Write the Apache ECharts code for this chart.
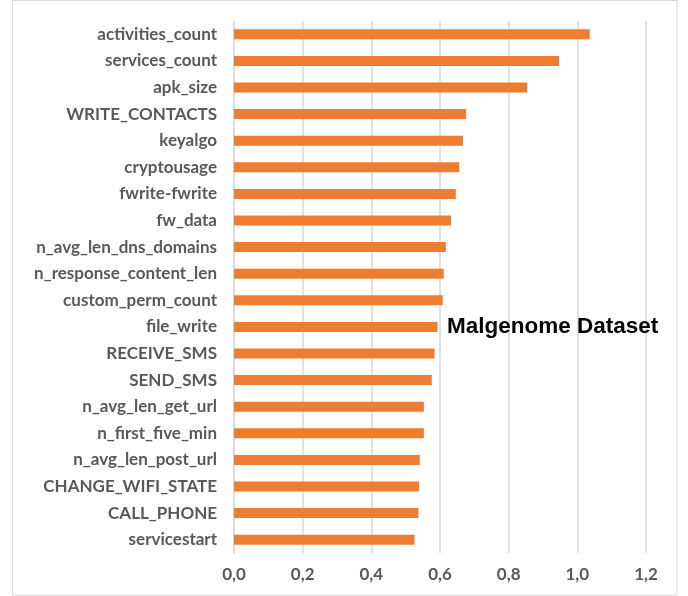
<!DOCTYPE html>
<html>
<head>
<meta charset="utf-8">
<script src="https://cdn.jsdelivr.net/npm/echarts@6/dist/echarts.min.js"></script>
<style>
  html, body { margin: 0; padding: 0; background: #fff; }
  #chart { width: 688px; height: 596px; }
</style>
</head>
<body>
<div id="chart"></div>
<script>
const features = [
  "activities_count", "services_count", "apk_size", "WRITE_CONTACTS", "keyalgo",
  "cryptousage", "fwrite-fwrite", "fw_data", "n_avg_len_dns_domains",
  "n_response_content_len", "custom_perm_count", "file_write", "RECEIVE_SMS",
  "SEND_SMS", "n_avg_len_get_url", "n_first_five_min", "n_avg_len_post_url",
  "CHANGE_WIFI_STATE", "CALL_PHONE", "servicestart"
];
const importance = [
  1.036, 0.947, 0.854, 0.676, 0.667,
  0.656, 0.646, 0.632, 0.617,
  0.611, 0.608, 0.593, 0.584,
  0.576, 0.553, 0.553, 0.541,
  0.539, 0.537, 0.526
];
const chartTitle = "Malgenome Dataset";

const chart = echarts.init(document.getElementById("chart"), null, { renderer: "canvas" });

const labelFont = { fontFamily: "Lato, 'Open Sans', sans-serif", fontWeight: "bold", fontSize: 17, color: "#595959" };

chart.setOption({
  animation: false,
  title: {
    text: chartTitle,
    left: 442,
    top: 310,
    textStyle: { fontFamily: "'Liberation Sans', Arial, sans-serif", fontWeight: "bold", fontSize: 22.5, color: "#000" }
  },
  graphic: [{
    type: "rect",
    shape: { x: 12.5, y: 0.5, width: 664.5, height: 594.5 },
    style: { fill: null, stroke: "#d9d9d9", lineWidth: 1 },
    silent: true
  }],
  grid: { left: 234, right: 42, top: 21, bottom: 43 },
  xAxis: {
    type: "value",
    min: 0,
    max: 1.2,
    interval: 0.2,
    axisLine: { show: false },
    axisTick: { show: false },
    splitLine: { lineStyle: { color: "#d9d9d9", width: 1.5 } },
    axisLabel: {
      ...labelFont,
      margin: 13,
      formatter: v => v.toFixed(1).replace(".", ",")
    }
  },
  yAxis: {
    type: "category",
    data: features,
    inverse: true,
    axisLine: { show: true, lineStyle: { color: "#d9d9d9", width: 1.5 } },
    axisTick: { show: false },
    axisLabel: { ...labelFont, margin: 17 }
  },
  series: [{
    type: "bar",
    data: importance,
    barWidth: 10,
    itemStyle: { color: "#ED7D31" }
  }]
});
</script>
</body>
</html>
